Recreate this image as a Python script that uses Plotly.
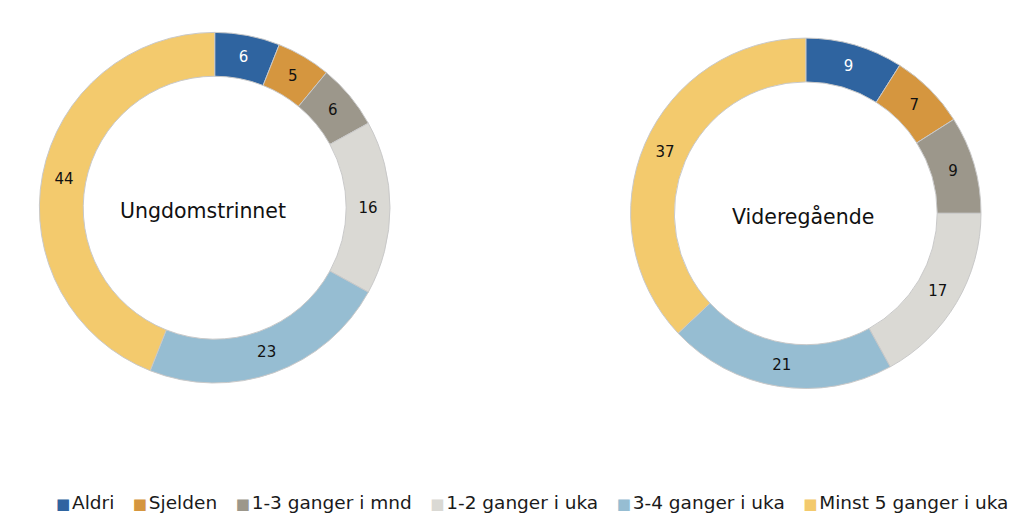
import plotly.graph_objects as go

categories = ["Aldri", "Sjelden", "1-3 ganger i mnd", "1-2 ganger i uka", "3-4 ganger i uka", "Minst 5 ganger i uka"]
ungdom_values = [6, 5, 6, 16, 23, 44]
vgs_values = [9, 7, 9, 17, 21, 37]
group_titles = ["Ungdomstrinnet", "Videregående"]

colors = ["#2F64A0", "#D5963F", "#9C978B", "#DAD9D4", "#96BDD2", "#F3CA6D"]
text_colors = ["white", "#111111", "#111111", "#111111", "#111111", "#111111"]

W, H = 1024, 523
FONT = "DejaVu Sans"

def dom(cx, cy, r):
    return dict(x=[(cx - r) / W, (cx + r) / W], y=[1 - (cy + r) / H, 1 - (cy - r) / H])

fig = go.Figure()
for vals, d in [(ungdom_values, dom(214.7, 207.7, 175.3)), (vgs_values, dom(805.8, 213.3, 175.2))]:
    fig.add_trace(go.Pie(
        labels=categories, values=vals, sort=False, direction="clockwise", rotation=0,
        hole=0.75, domain=d,
        marker=dict(colors=colors, line=dict(color="#C9C9C9", width=1)),
        texttemplate="%{value}", textposition="inside", insidetextorientation="horizontal",
        textfont=dict(family=FONT, size=15, color=text_colors),
        hoverinfo="label+value", showlegend=False,
    ))

fig.add_annotation(x=203 / W, y=1 - 211 / H, xref="paper", yref="paper", text=group_titles[0],
                   xanchor="center", yanchor="middle",
                   showarrow=False, font=dict(family=FONT, size=20.5, color="#111111"))
fig.add_annotation(x=803 / W, y=1 - 216 / H, xref="paper", yref="paper", text=group_titles[1],
                   xanchor="center", yanchor="middle",
                   showarrow=False, font=dict(family=FONT, size=20.5, color="#111111"))

# legend built from the category names and colours
parts = []
for c, col in zip(categories, colors):
    parts.append(f'<span style="color:{col};font-size:15px">■</span>\u200a{c}')
legend_text = "\u2003".join(parts)
fig.add_annotation(x=532 / W, y=1 - 502 / H, xref="paper", yref="paper", text=legend_text,
                   xanchor="center", yanchor="middle", showarrow=False,
                   font=dict(family=FONT, size=18.5, color="#1a1a1a"))

fig.update_layout(
    width=W, height=H, margin=dict(l=0, r=0, t=0, b=0),
    paper_bgcolor="white", plot_bgcolor="white",
    showlegend=False,
    font=dict(family=FONT),
)

fig.write_html("out.html")
